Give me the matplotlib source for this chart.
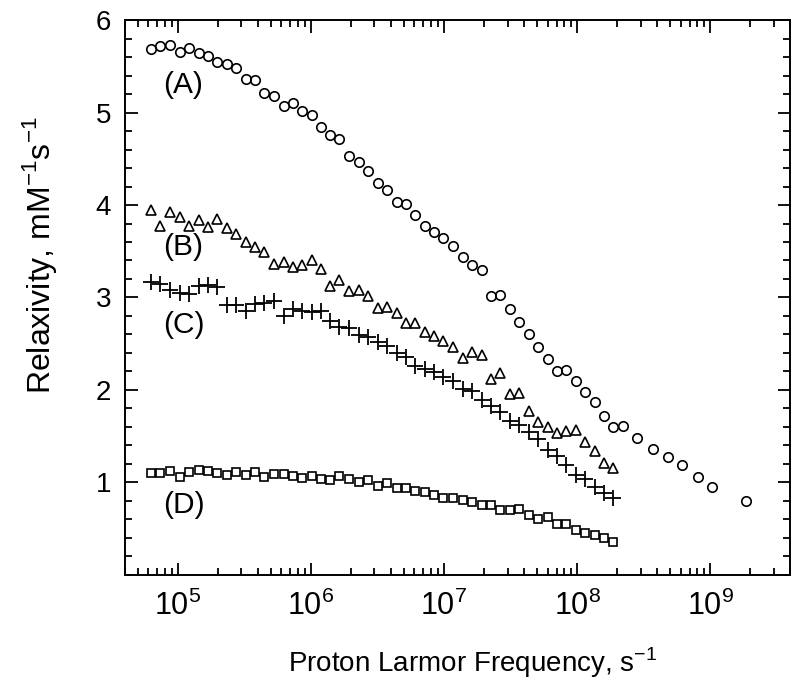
import matplotlib
matplotlib.use("Agg")
import matplotlib.pyplot as plt
from matplotlib.ticker import LogLocator, MultipleLocator, NullFormatter

# Frequenzraster (s^-1), gemeinsam fuer alle vier Messreihen
freq = [6.24e4, 7.41e4, 8.81e4, 1.035e5, 1.216e5, 1.436e5, 1.687e5, 1.986e5, 2.333e5, 2.748e5,
        3.236e5, 3.776e5, 4.436e5, 5.248e5, 6.237e5, 7.311e5, 8.610e5, 1.012e6, 1.194e6, 1.396e6,
        1.637e6, 1.945e6, 2.286e6, 2.692e6, 3.177e6, 3.733e6, 4.406e6, 5.176e6, 6.081e6, 7.194e6,
        8.453e6, 9.908e6, 1.167e7, 1.377e7, 1.618e7, 1.919e7, 2.259e7, 2.636e7, 3.119e7, 3.664e7,
        4.315e7, 5.082e7, 6.012e7, 7.063e7, 8.279e7, 9.750e7, 1.143e8, 1.352e8, 1.589e8, 1.866e8]
# Reihe A hat noch Punkte bei hoeheren Frequenzen
freq_a_tail = [2.203e8, 2.831e8, 3.698e8, 4.797e8, 6.180e8, 8.054e8, 1.030e9, 1.866e9]

relax_a = [5.685, 5.714, 5.735, 5.659, 5.696, 5.642, 5.616, 5.551, 5.526, 5.476,
           5.361, 5.354, 5.216, 5.181, 5.072, 5.102, 5.011, 4.975, 4.842, 4.756,
           4.712, 4.535, 4.467, 4.373, 4.237, 4.164, 4.035, 4.010, 3.891, 3.775,
           3.710, 3.645, 3.559, 3.443, 3.354, 3.294, 3.011, 3.022, 2.875, 2.737,
           2.602, 2.464, 2.330, 2.208, 2.213, 2.092, 1.973, 1.870, 1.724, 1.599,
           1.613, 1.486, 1.364, 1.278, 1.184, 1.054, 0.954, 0.795]
relax_b = [3.941, 3.775, 3.919, 3.869, 3.775, 3.840, 3.761, 3.848, 3.750, 3.689,
           3.605, 3.545, 3.497, 3.364, 3.386, 3.329, 3.350, 3.400, 3.310, 3.119,
           3.184, 3.065, 3.083, 3.015, 2.891, 2.896, 2.831, 2.723, 2.723, 2.632,
           2.589, 2.532, 2.464, 2.351, 2.416, 2.373, 2.118, 2.183, 1.959, 1.966,
           1.768, 1.649, 1.605, 1.534, 1.554, 1.564, 1.440, 1.337, 1.210, 1.157]
relax_c = [3.168, 3.151, 3.086, 3.054, 3.035, 3.119, 3.137, 3.112, 2.921, 2.921,
           2.849, 2.926, 2.939, 2.962, 2.795, 2.881, 2.858, 2.843, 2.854, 2.741,
           2.686, 2.669, 2.595, 2.573, 2.524, 2.480, 2.395, 2.362, 2.264, 2.227,
           2.195, 2.137, 2.092, 2.010, 1.984, 1.894, 1.822, 1.757, 1.670, 1.621,
           1.551, 1.470, 1.354, 1.285, 1.191, 1.083, 1.037, 0.954, 0.881, 0.831]
relax_d = [1.102, 1.102, 1.123, 1.058, 1.108, 1.130, 1.119, 1.102, 1.080, 1.116,
           1.083, 1.116, 1.058, 1.091, 1.094, 1.072, 1.047, 1.065, 1.037, 1.029,
           1.072, 1.040, 1.000, 1.029, 0.957, 0.989, 0.939, 0.939, 0.910, 0.892,
           0.867, 0.831, 0.831, 0.813, 0.784, 0.759, 0.756, 0.702, 0.702, 0.712,
           0.651, 0.608, 0.626, 0.554, 0.554, 0.489, 0.453, 0.427, 0.399, 0.359]

series_labels = ["(A)", "(B)", "(C)", "(D)"]
label_y = [5.30, 3.55, 2.70, 0.76]

x_ticks = [1e5, 1e6, 1e7, 1e8, 1e9]
x_tick_labels = [r"$\mathdefault{10^{5}}$", r"$\mathdefault{10^{6}}$", r"$\mathdefault{10^{7}}$",
                 r"$\mathdefault{10^{8}}$", r"$\mathdefault{10^{9}}$"]
y_ticks = [1, 2, 3, 4, 5, 6]

plt.rcParams['font.family'] = ['Liberation Sans', 'DejaVu Sans']

fig = plt.figure(figsize=(8.0, 6.81), dpi=100)
ax = fig.add_axes([0.156, 0.1557, 0.832, 0.8149])

ax.plot(freq + freq_a_tail, relax_a, linestyle='none', marker='o', ms=6.8,
        mfc='none', mec='black', mew=1.2)
ax.plot(freq, relax_b, linestyle='none', marker='^', ms=6.8,
        mfc='none', mec='black', mew=1.2)
ax.plot(freq, relax_c, linestyle='none', marker='+', ms=11,
        mec='black', mew=1.3)
ax.plot(freq, relax_d, linestyle='none', marker='s', ms=6.4,
        mfc='none', mec='black', mew=1.2)

for txt, yy in zip(series_labels, label_y):
    ax.text(7.7e4, yy, txt, fontsize=21.5, ha='left', va='center')

ax.set_xscale('log')
ax.set_xlim(4e4, 4e9)
ax.set_ylim(0, 6)

ax.set_xticks(x_ticks)
ax.set_xticklabels(x_tick_labels, fontsize=22)
ax.xaxis.set_minor_locator(LogLocator(base=10, subs=[2, 3, 4, 5, 6, 7, 8, 9], numticks=20))
ax.xaxis.set_minor_formatter(NullFormatter())
ax.set_yticks(y_ticks)
ax.yaxis.set_minor_locator(MultipleLocator(0.2))
ax.tick_params(axis='y', labelsize=20, pad=10)
ax.tick_params(axis='x', pad=11)

ax.tick_params(which='both', direction='in', top=True, right=True, width=1.3, color='black')
ax.tick_params(which='major', length=9)
ax.tick_params(which='minor', length=5)
for sp in ax.spines.values():
    sp.set_linewidth(1.4)

fig.text(0.59, 1 - 663 / 681, r"Proton Larmor Frequency, s$^{\mathdefault{-1}}$",
         fontsize=20, ha='center', va='center')
fig.text(0.05, 1 - 255 / 681, r"Relaxivity, mM$^{\mathdefault{-1}}$s$^{\mathdefault{-1}}$",
         fontsize=23, rotation=90, ha='center', va='center')

fig.savefig("out.png", dpi=100)
